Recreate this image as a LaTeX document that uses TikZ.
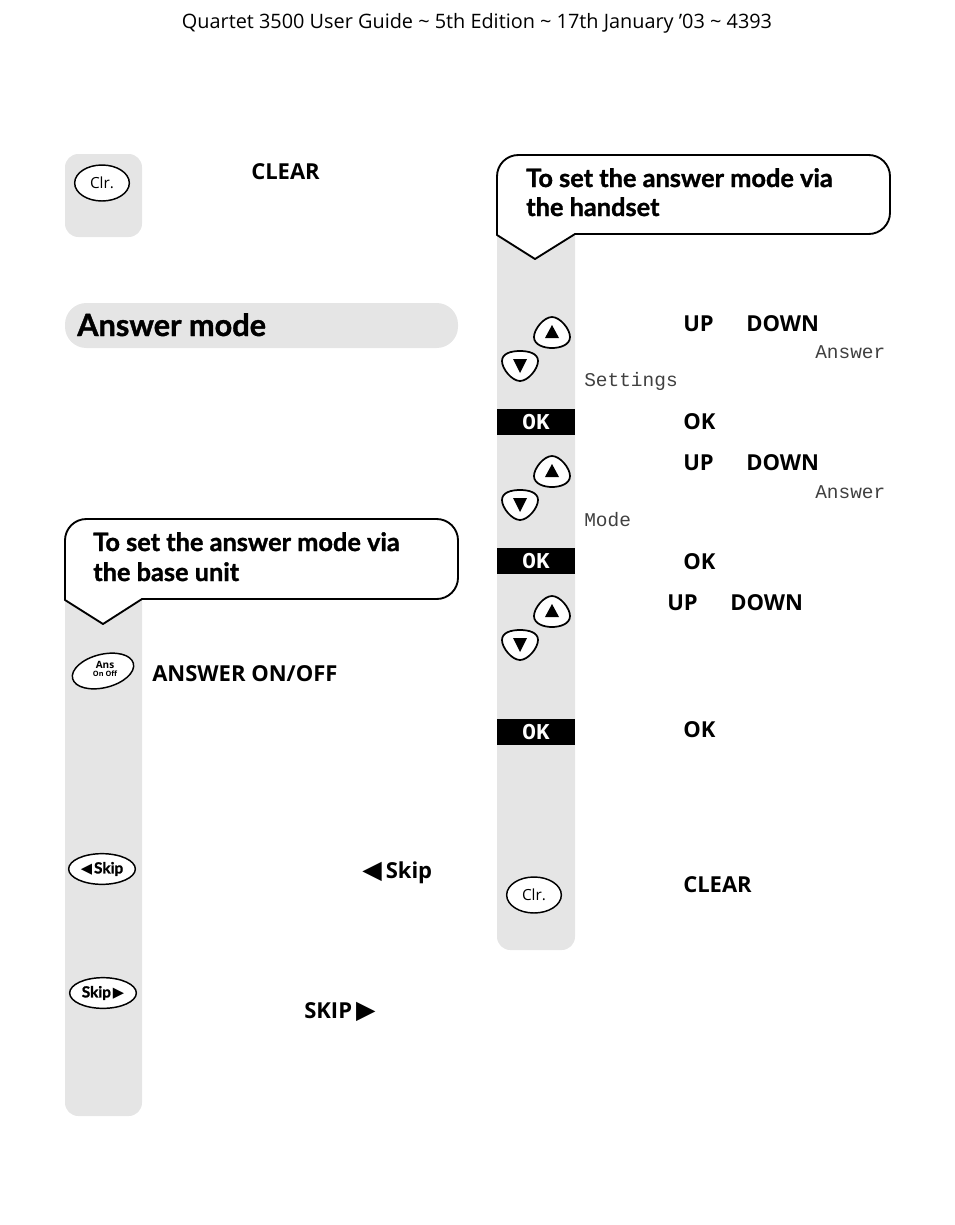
\documentclass[tikz,border=0pt]{standalone}
\usepackage{fontspec}
\setmainfont{Open Sans}
\newfontfamily\lcdfont{Liberation Mono}
\newfontfamily\symfont{DejaVu Sans}
\newfontfamily\titlefont[BoldFeatures={FakeBold=1.2}]{Lato}
\usetikzlibrary{shapes.geometric}
\definecolor{stripgrey}{gray}{0.9}
\tikzset{
	strip/.style={fill=stripgrey,draw=none},
	callout/.style={draw=black,fill=white,line width=1.4pt,line join=round},
	title/.style={anchor=base west,inner sep=0pt,font=\fontsize{19}{19}\selectfont\titlefont\bfseries},
	key/.style={anchor=base west,inner sep=0pt,font=\fontsize{16.5}{16.5}\selectfont\bfseries},
	lcd/.style={anchor=base west,inner sep=0pt,text=black!75,font=\fontsize{14.6}{14.6}\selectfont\lcdfont},
	btn/.style={draw=black,fill=white,ellipse,line width=1.1pt,inner sep=0pt},
	okbar/.style={fill=black,text=white,minimum width=58.5pt,minimum height=19.5pt,inner sep=0pt,font=\fontsize{17}{17}\selectfont\lcdfont\bfseries}
}
% arrow pair, #1 and #2 are the top left corner of the pair
\newcommand{\updown}[2]{
\path[callout,line width=1.3pt] (#1+55,#2+1) .. controls (#1+63,#2+1) and (#1+73,#2+13) .. (#1+73,#2+21) .. controls (#1+73,#2+29) and (#1+63,#2+32) .. (#1+55,#2+32) .. controls (#1+47,#2+32) and (#1+37,#2+29) .. (#1+37,#2+21) .. controls (#1+37,#2+13) and (#1+47,#2+1) .. cycle;
\fill (#1+55,#2+9)--(#1+62,#2+22)--(#1+48,#2+22)--cycle;
\path[callout,line width=1.3pt] (#1+23,#2+65) .. controls (#1+15,#2+65) and (#1+5,#2+53) .. (#1+5,#2+45) .. controls (#1+5,#2+37) and (#1+15,#2+35) .. (#1+23,#2+35) .. controls (#1+31,#2+35) and (#1+41,#2+37) .. (#1+41,#2+45) .. controls (#1+41,#2+53) and (#1+31,#2+65) .. cycle;
\fill (#1+23,#2+57)--(#1+30,#2+43)--(#1+16,#2+43)--cycle;
}

\begin{document}
\begin{tikzpicture}[x=0.75pt,y=-0.75pt]
\useasboundingbox (0,0) rectangle (954,1225);

\node[anchor=base,inner sep=0pt,font=\fontsize{14.9}{14.9}\selectfont](header) at (477,28){Quartet 3500 User Guide \textasciitilde{} 5th Edition \textasciitilde{} 17th January '03 \textasciitilde{} 4393};

% grey strips
\path[strip,rounded corners=10pt] (65,154) rectangle (142,237);
\path[strip,rounded corners=10pt] (65,560) rectangle (142,1116);
\path[strip,rounded corners=10pt] (497,200) rectangle (575,950);
\path[strip,rounded corners=16pt] (65,303) rectangle (458,348);

% callouts
\path[callout,rounded corners=16pt] (65,600)--(65,519)--(458,519)--(458,599)--(300,599)[sharp corners]--(142,599)--(103,624)--cycle;
\path[callout,rounded corners=16pt] (497,235)--(497,155)--(890,155)--(890,234)--(700,234)[sharp corners]--(575,234)--(535,259)--cycle;

\node[anchor=base west,inner sep=0pt,font=\fontsize{23}{23}\selectfont\titlefont\bfseries](mode) at (77,336){Answer mode};
\node[title](base1) at (93,551){To set the answer mode via};
\node[title](base2) at (93,581){the base unit};
\node[title](set1) at (526,187){To set the answer mode via};
\node[title](set2) at (526,216){the handset};

% left column
\node[btn,minimum width=41pt,minimum height=27pt,font=\fontsize{11.5}{11.5}\selectfont](clr1) at (102,183){Clr.};
\node[key](clear1) at (251,179){CLEAR};
\node[btn,rotate=14,minimum width=47pt,minimum height=25pt](ans) at (103,671){};
\node[align=center,inner sep=0pt,font=\fontsize{7.5}{7.5}\selectfont\bfseries](anstext) at (105,669){Ans\\[-1pt]{\fontsize{5.5}{5.5}\selectfont On Off}};
\node[key](ansoff) at (152,681){ANSWER ON/OFF};
\node[btn,minimum width=50pt,minimum height=23pt,font=\fontsize{11.5}{11.5}\selectfont\titlefont\bfseries](skipb) at (102,869){{\symfont\fontsize{11}{11}\selectfont ◀}\kern1.5pt Skip};
\node[key](skipl) at (362,878){{\symfont\fontsize{19}{19}\selectfont ◀}\kern3pt Skip};
\node[btn,minimum width=50pt,minimum height=23pt,font=\fontsize{11.5}{11.5}\selectfont\titlefont\bfseries](skipf) at (103,993){Skip\kern1.5pt{\symfont\fontsize{11}{11}\selectfont ▶}};
\node[key](skipr) at (304,1018){SKIP\kern3pt{\symfont\fontsize{19}{19}\selectfont ▶}};

% right column
\updown{497}{316}
\node[key](up1) at (683,331){UP};
\node[key](down1) at (746,331){DOWN};
\node[lcd](lcd1) at (815,358){Answer};
\node[lcd](lcd2) at (584,386){Settings};
\node[okbar](ok1) at (536,422){OK};
\node[key](oktext1) at (683,429){OK};
\updown{497}{455}
\node[key](up2) at (683,470){UP};
\node[key](down2) at (746,470){DOWN};
\node[lcd](lcd3) at (815,498){Answer};
\node[lcd](lcd4) at (584,526){Mode};
\node[okbar](ok2) at (536,561){OK};
\node[key](oktext2) at (683,569){OK};
\updown{497}{595}
\node[key](up3) at (667,610){UP};
\node[key](down3) at (730,610){DOWN};
\node[okbar](ok3) at (536,732){OK};
\node[key](oktext3) at (683,737){OK};
\node[btn,minimum width=41pt,minimum height=27pt,font=\fontsize{11.5}{11.5}\selectfont](clr2) at (534,895){Clr.};
\node[key](clear2) at (683,892){CLEAR};

\end{tikzpicture}
\end{document}
